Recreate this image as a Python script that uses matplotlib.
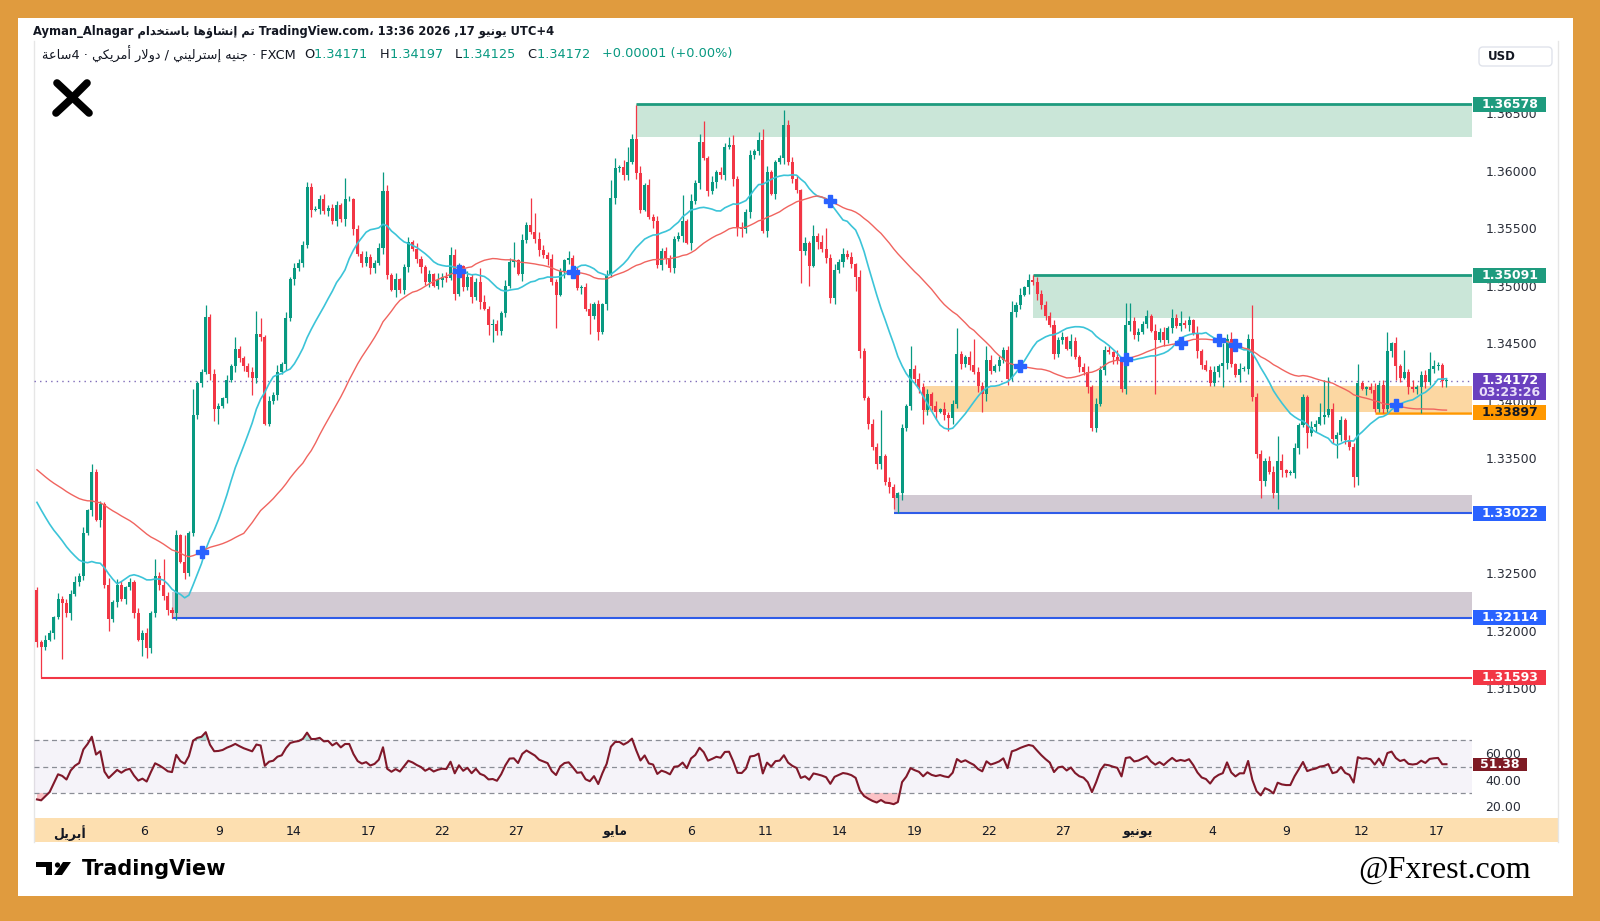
import matplotlib
matplotlib.use("Agg")
import matplotlib.pyplot as plt
import numpy as np
from matplotlib.patches import Rectangle, FancyBboxPatch, Polygon, Circle
from matplotlib.transforms import blended_transform_factory

# ---------------- data (prices in pips: 13417 -> 1.3417) ----------------
first_open = 13235
closes = [
    13190, 13186, 13192, 13198, 13212, 13228, 13224, 13215, 13232, 13242,
    13248, 13285, 13305, 13338, 13296, 13310, 13240, 13210, 13225, 13240,
    13228, 13238, 13242, 13215, 13192, 13198, 13185, 13215, 13248, 13240,
    13230, 13218, 13215, 13283, 13260, 13250, 13285, 13388, 13415, 13425,
    13473, 13423, 13393, 13395, 13402, 13418, 13430, 13445, 13437, 13430,
    13425, 13420, 13458, 13455, 13380, 13400, 13405, 13425, 13432, 13472,
    13506, 13515, 13520, 13535, 13586, 13566, 13567, 13575, 13565, 13568,
    13556, 13570, 13558, 13575, 13575, 13549, 13528, 13520, 13525, 13515,
    13520, 13533, 13582, 13509, 13496, 13506, 13496, 13516, 13538, 13532,
    13523, 13516, 13503, 13510, 13500, 13505, 13508, 13507, 13527, 13493,
    13517, 13499, 13508, 13490, 13503, 13486, 13480, 13466, 13467, 13461,
    13476, 13500, 13521, 13522, 13510, 13540, 13553, 13547, 13541, 13531,
    13527, 13523, 13503, 13492, 13513, 13522, 13524, 13512, 13498, 13499,
    13480, 13474, 13484, 13460, 13484, 13509, 13576, 13602, 13603, 13596,
    13608, 13628, 13598, 13566, 13588, 13560, 13556, 13518, 13530, 13524,
    13515, 13541, 13543, 13556, 13537, 13574, 13589, 13625, 13611, 13582,
    13590, 13599, 13596, 13621, 13622, 13593, 13550, 13549, 13564, 13614,
    13617, 13627, 13548, 13599, 13580, 13608, 13611, 13640, 13608, 13593,
    13583, 13530, 13537, 13517, 13543, 13538, 13532, 13524, 13489, 13514,
    13521, 13528, 13525, 13519, 13508, 13443, 13402, 13380, 13360, 13345,
    13352, 13329, 13325, 13315, 13320, 13376, 13395, 13428, 13419, 13412,
    13392, 13406, 13395, 13390, 13393, 13388, 13385, 13397, 13441, 13432,
    13438, 13431, 13425, 13413, 13406, 13435, 13426, 13430, 13435, 13444,
    13419, 13477, 13483, 13492, 13499, 13505, 13503, 13493, 13483, 13474,
    13466, 13441, 13453, 13455, 13445, 13452, 13438, 13429, 13425, 13412,
    13376, 13397, 13427, 13444, 13442, 13438, 13435, 13410, 13466, 13469,
    13457, 13460, 13467, 13474, 13461, 13453, 13460, 13453, 13463, 13472,
    13465, 13468, 13466, 13470, 13459, 13443, 13431, 13427, 13415, 13425,
    13430, 13433, 13454, 13432, 13422, 13428, 13428, 13454, 13403, 13354,
    13330, 13348, 13338, 13320, 13348, 13340, 13337, 13337, 13359, 13379,
    13403, 13372, 13377, 13380, 13386, 13388, 13393, 13367, 13370, 13383,
    13366, 13360, 13334, 13415, 13410, 13412, 13409, 13393, 13414, 13393,
    13443, 13450, 13430, 13420, 13425, 13412, 13410, 13412, 13422, 13416,
    13428, 13430, 13431, 13417, 13417,
]
# wick lengths in pips, one digit per candle
up_wick = ("3243152436" "2514332625" "3142534213" "2435162423" "4253142532"
           "3415243625" "2534132452" "3425314253" "2436251342" "5324163425"
           "3152436243" "2534152436" "4253216342" "3524153426" "2436152534"
           "3245263142" "5243162534" "2435213524" "3152436245" "2534163243"
           "4253142635" "3425162432" "2534315243" "4236152534" "3425163245"
           "2534216342" "4325163425" "3524162435" "2436152534" "3245261342"
           "4253162534" "2435213624" "3152436245" "25342")
dn_wick = ("4231524362" "3425163524" "2534162435" "3426152343" "2536142534"
           "4253163425" "3524261534" "2436152435" "4253162342" "3524136425"
           "2435261534" "4325163245" "3524163425" "2436251534" "4253126345"
           "3425163524" "2534261435" "4326152534" "2435163425" "3524261534"
           "4253162345" "2436152534" "3425263142" "5243162534" "2534162435"
           "4325163245" "3524162534" "2435263142" "4253162534" "3425163245"
           "2534162435" "4326152534" "3524162435" "24351")
known_high = {13: 13345, 28: 13262, 30: 13262, 35: 13283, 37: 13410, 40: 13483,
              47: 13455, 52: 13478, 53: 13472, 64: 13590, 73: 13594, 82: 13599,
              98: 13534, 105: 13515, 113: 13538, 117: 13576, 118: 13563,
              136: 13592, 137: 13611, 140: 13621, 141: 13632, 142: 13657,
              153: 13579, 157: 13632, 158: 13643, 164: 13629, 165: 13631,
              171: 13634, 172: 13636, 177: 13653, 178: 13644, 184: 13553,
              187: 13550, 200: 13392, 207: 13448, 218: 13463, 222: 13454,
              225: 13448, 231: 13487, 236: 13509, 254: 13448, 258: 13485,
              259: 13485, 269: 13480, 271: 13478, 281: 13450, 282: 13458,
              287: 13458, 288: 13483, 294: 13369, 300: 13406, 304: 13398,
              305: 13418, 306: 13421, 313: 13432, 320: 13460, 324: 13444,
              330: 13442, 333: 13433, 334: 13420}
known_low = {1: 13159, 6: 13175, 17: 13200, 25: 13178, 26: 13176, 32: 13211,
             42: 13382, 43: 13380, 51: 13405, 55: 13378, 107: 13457,
             108: 13451, 123: 13463, 131: 13458, 133: 13453, 166: 13543,
             167: 13542, 181: 13502, 183: 13500, 188: 13485, 194: 13495,
             203: 13306, 204: 13302, 210: 13380, 216: 13374, 224: 13390,
             250: 13374, 257: 13408, 265: 13406, 278: 13413, 281: 13412,
             290: 13315, 293: 13315, 294: 13306, 301: 13359, 308: 13350,
             312: 13325, 313: 13327, 317: 13390, 322: 13418, 328: 13389,
             334: 13412}

ma_fast_len, ma_fast_seed = 20, 13318
ma_slow_len, ma_slow_seed = 50, 13343
rsi_len, rsi_seed_gain, rsi_seed_loss = 14, 3.0, 5.5
cross_idx = [39, 100, 127, 188, 233, 258, 271, 280, 284, 322]

# zones: (start candle, top, bottom)
green_zones = [(142, 1.36578, 1.36296), (236, 1.35091, 1.34716)]
gray_zones = [(203, 1.33180, 1.33022), (32, 1.32338, 1.32114)]
orange_zone = (210, 1.34130, 1.33900)
low_line = (1, 1.31593)
orange_line = (317, 1.33897)
last_price = 1.34172
countdown = "03:23:26"
rsi_last = 51.38

price_ticks = [1.315, 1.320, 1.325, 1.335, 1.340, 1.345, 1.350,
               1.355, 1.360, 1.365]
rsi_ticks = [20, 40, 60]
date_pos = [7.7, 25.3, 43.2, 60.9, 78.5, 95.9, 113.6, 137.0, 154.9, 172.6,
            190.2, 207.9, 225.5, 243.2, 260.8, 278.5, 296.1, 313.8, 331.7]
date_lab = ["أبريل", "6", "9", "14", "17", "22", "27", "مايو", "6", "11",
            "14", "19", "22", "27", "يونيو", "4", "9", "12", "17"]
hdr_ohlc = [("O", "1.34171"), ("H", "1.34197"), ("L", "1.34125"), ("C", "1.34172")]
hdr_change = "+0.00001 (+0.00%)"

# ---------------- arabic shaping (no bidi lib available) ----------------
AR = {'ا': (0xFE8D, 0xFE8E, None, None), 'أ': (0xFE83, 0xFE84, None, None),
      'إ': (0xFE87, 0xFE88, None, None), 'ؤ': (0xFE85, 0xFE86, None, None),
      'ة': (0xFE93, 0xFE94, None, None), 'د': (0xFEA9, 0xFEAA, None, None),
      'ر': (0xFEAD, 0xFEAE, None, None), 'و': (0xFEED, 0xFEEE, None, None),
      'ب': (0xFE8F, 0xFE90, 0xFE91, 0xFE92), 'ت': (0xFE95, 0xFE96, 0xFE97, 0xFE98),
      'ج': (0xFE9D, 0xFE9E, 0xFE9F, 0xFEA0), 'خ': (0xFEA5, 0xFEA6, 0xFEA7, 0xFEA8),
      'س': (0xFEB1, 0xFEB2, 0xFEB3, 0xFEB4), 'ش': (0xFEB5, 0xFEB6, 0xFEB7, 0xFEB8),
      'ع': (0xFEC9, 0xFECA, 0xFECB, 0xFECC), 'ك': (0xFED9, 0xFEDA, 0xFEDB, 0xFEDC),
      'ل': (0xFEDD, 0xFEDE, 0xFEDF, 0xFEE0), 'م': (0xFEE1, 0xFEE2, 0xFEE3, 0xFEE4),
      'ن': (0xFEE5, 0xFEE6, 0xFEE7, 0xFEE8), 'ه': (0xFEE9, 0xFEEA, 0xFEEB, 0xFEEC),
      'ي': (0xFEF1, 0xFEF2, 0xFEF3, 0xFEF4)}
LAMALEF = {'ا': (0xFEFB, 0xFEFC), 'أ': (0xFEF7, 0xFEF8), 'إ': (0xFEF9, 0xFEFA)}


def ar(text):
    if not any(ch in AR for ch in text):
        return text
    out, prev, i = [], None, 0
    fwd = lambda ch: ch in AR and AR[ch][2] is not None
    while i < len(text):
        ch = text[i]
        if ch not in AR:
            out.append(ch); prev = None; i += 1; continue
        lp = prev is not None and fwd(prev)
        if ch == 'ل' and i + 1 < len(text) and text[i + 1] in LAMALEF:
            iso, fin = LAMALEF[text[i + 1]]
            out.append(chr(fin if lp else iso)); prev = text[i + 1]; i += 2; continue
        ln = fwd(ch) and i + 1 < len(text) and text[i + 1] in AR
        iso, fin, ini, med = AR[ch]
        out.append(chr(med if lp and ln else fin if lp else ini if ln else iso))
        prev = ch; i += 1
    return ''.join(out)[::-1]


# ---------------- derived series ----------------
c = np.array(closes, float)
n = len(c)
o = np.concatenate([[first_open], c[:-1]])
hi = np.maximum(o, c) + np.array([int(d) for d in up_wick[:n]])
lo = np.minimum(o, c) - np.array([int(d) for d in dn_wick[:n]])
for k, v in known_high.items():
    hi[k] = max(v, o[k], c[k])
for k, v in known_low.items():
    lo[k] = min(v, o[k], c[k])


def sma(vals, length, seed):
    cs = np.cumsum(vals)
    out = np.empty(len(vals))
    for i in range(len(vals)):
        if i < length - 1:
            out[i] = (seed * (length - 1 - i) + cs[i]) / length
        else:
            out[i] = (cs[i] - (cs[i - length] if i >= length else 0)) / length
    return out


fast = sma(c, ma_fast_len, ma_fast_seed) / 1e4
slow = sma(c, ma_slow_len, ma_slow_seed) / 1e4

g, l = rsi_seed_gain, rsi_seed_loss
rsi = []
for d in c - o:
    g = (g * (rsi_len - 1) + max(d, 0)) / rsi_len
    l = (l * (rsi_len - 1) + max(-d, 0)) / rsi_len
    rsi.append(100 - 100 / (1 + g / l))
rsi = np.array(rsi)

O, C, H, L = o / 1e4, c / 1e4, hi / 1e4, lo / 1e4
x = np.arange(n)

# ---------------- figure ----------------
GREEN, RED = "#089981", "#F23645"
DARK = "#131722"
fig = plt.figure(figsize=(16, 9.21), dpi=100, facecolor="#E09B3E")
bg = fig.add_axes([0, 0, 1, 1], zorder=0)
bg.set_xlim(0, 1600); bg.set_ylim(921, 0); bg.axis("off")
bg.add_patch(Rectangle((18, 18), 1555, 878, fc="white", ec="none"))
peach = np.array([253, 223, 176]) / 255
def grad(y0, y1, c0=(1, 1, 1)):
    t = np.linspace(0, 1, 200)[:, None, None]
    img = np.array(c0)[None, None, :] * (1 - t) + peach[None, None, :] * t
    bg.imshow(img, extent=(34, 1558, y1, y0), aspect="auto", zorder=0)
grad(41, 726.5)
grad(727, 818, c0=(1, 0.99, 0.98))
bg.add_patch(Rectangle((34, 818), 1524, 24, fc=peach, ec="none"))
bg.set_xlim(0, 1600); bg.set_ylim(921, 0)
for xx in (33.5, 1558):
    bg.plot([xx, xx], [41, 842], color="#E6E6E6", lw=1)

W0, W1 = 34 / 1600, (1472 - 34) / 1600
ax = fig.add_axes([W0, 1 - 726.5 / 921, W1, (726.5 - 41) / 921], zorder=2)
rx = fig.add_axes([W0, 1 - 818 / 921, W1, (818 - 727) / 921], zorder=2)
for a in (ax, rx):
    a.set_facecolor("none")
    for s in a.spines.values():
        s.set_visible(False)
    a.set_xlim(-0.7, 340.05)
    a.yaxis.tick_right()
    a.tick_params(axis="y", length=0, pad=9.5, labelsize=9, labelcolor="#2A2E39")

ax.set_ylim(1.31167, 1.37128)
ax.set_xticks([])
ax.set_yticks(price_ticks)
ax.set_yticklabels([f"{p:.5f}" for p in price_ticks])

# zones
xr = 340.05
for s, top, bot in green_zones:
    ax.add_patch(Rectangle((s, bot), xr - s, top - bot, fc="#CAE6D8", ec="none", zorder=1))
    ax.hlines(top, s, xr, color="#1E9B7E", lw=2, zorder=1.5)
s, top, bot = orange_zone
ax.add_patch(Rectangle((s, bot), xr - s, top - bot, fc="#FCD7A2", ec="none", zorder=1))
for s, top, bot in gray_zones:
    ax.add_patch(Rectangle((s, bot), xr - s, top - bot, fc="#D2CAD3", ec="none", zorder=1))
    ax.hlines(bot, s, xr, color="#2F5CE8", lw=1.5, zorder=1.5)
ax.hlines(low_line[1], low_line[0], xr, color=RED, lw=1.5, zorder=1.5)
ax.hlines(orange_line[1], orange_line[0], xr, color="#FF9800", lw=1.8, zorder=1.5)
ax.axhline(last_price, color="#7E6BB8", lw=1, ls=(0, (1, 3)), zorder=1.5)

# candles
col = np.where(C >= O, GREEN, RED)
ax.vlines(x, L, H, colors=col, lw=0.9, zorder=3)
ax.bar(x, np.maximum(np.abs(C - O), 0.00008), bottom=np.minimum(O, C), width=0.72,
       color=col, zorder=3)
ax.plot(x, fast, color="#3CC4D8", lw=1.2, zorder=4)
ax.plot(x, slow, color="#F0645F", lw=1.0, zorder=4)
ax.plot(cross_idx, slow[cross_idx], ls="none", marker="P", ms=9,
        color="#2962FF", mec="#2962FF", zorder=5)

# price tags on the right axis
bt = blended_transform_factory(ax.transAxes, ax.transData)
ppx = (1.37128 - 1.31167) / (726.5 - 41)
wx = 73 / 1438
def tag(price, fc, txt, tc="white", up=7.5, dn=7.5):
    ax.add_patch(Rectangle((1.0008, price - dn * ppx), wx, (up + dn) * ppx, fc=fc,
                           ec="none", transform=bt, clip_on=False, zorder=6))
    ax.text(1.0008 + wx / 2, price, txt, transform=bt, ha="center", va="center",
            color=tc, fontsize=9, fontweight="bold", zorder=7, clip_on=False)
tag(green_zones[0][1], "#1E9B7E", f"{green_zones[0][1]:.5f}")
tag(green_zones[1][1], "#1E9B7E", f"{green_zones[1][1]:.5f}")
tag(gray_zones[0][2], "#2962FF", f"{gray_zones[0][2]:.5f}")
tag(gray_zones[1][2], "#2962FF", f"{gray_zones[1][2]:.5f}")
tag(low_line[1], RED, f"{low_line[1]:.5f}")
tag(orange_line[1], "#FF9800", f"{orange_line[1]:.5f}", tc=DARK)
tag(last_price, "#6A40BF", f"{last_price:.5f}", up=7.5, dn=19)
ax.text(1.0008 + wx / 2, last_price - 12 * ppx, countdown, transform=bt, ha="center",
        va="center", color="#E8DDF8", fontsize=9, fontweight="bold", zorder=7,
        clip_on=False)

# RSI pane
rx.set_ylim(11, 80)
rx.fill_between([-0.7, xr], 30, 70, color="#B9A3D6", alpha=0.13, lw=0)
for lv in (70, 50, 30):
    rx.axhline(lv, color="#8A8D96", lw=0.9, ls=(0, (4, 3)))
rx.fill_between(x, rsi, 30, where=rsi < 30, color=RED, alpha=0.3, lw=0, interpolate=True)
rx.fill_between(x, rsi, 70, where=rsi > 70, color=GREEN, alpha=0.3, lw=0, interpolate=True)
rx.plot(x, rsi, color="#80182A", lw=1.5)
rx.set_yticks(rsi_ticks)
rx.set_yticklabels([f"{v:.2f}" for v in rsi_ticks])
rbt = blended_transform_factory(rx.transAxes, rx.transData)
rpx = 69 / 91
rx.add_patch(Rectangle((1.0008, rsi_last - 6.5 * rpx), 54 / 1438, 13 * rpx, fc="#7E1B24",
                       ec="none", transform=rbt, clip_on=False, zorder=6))
rx.text(1.0008 + 27 / 1438, rsi_last, f"{rsi_last:.2f}", transform=rbt, ha="center",
        va="center", color="white", fontsize=9, fontweight="bold", zorder=7)
rx.set_xticks(date_pos)
rx.set_xticklabels([ar(t) for t in date_lab])
rx.tick_params(axis="x", length=0, pad=5, labelsize=9, labelcolor=DARK)
for t, lab in zip(rx.get_xticklabels(), date_lab):
    if not lab.isdigit():
        t.set_fontweight("bold")

# header texts
fig.canvas.draw()
rend = fig.canvas.get_renderer()
def runs(x0, y0, parts, size=9, weight="normal"):
    for txt, cl in parts:
        t = bg.text(x0, y0, txt, color=cl, fontsize=size, fontweight=weight,
                    va="center", ha="left")
        x0 += t.get_window_extent(rend).width
runs(33, 31.5, [("Ayman_Alnagar " + ar("تم إنشاؤها باستخدام") + " TradingView.com، 13:36 2026 ,17 "
                 + ar("يونيو") + " UTC+4", DARK)], size=8.3, weight="bold")
parts = [(ar("جنيه إسترليني / دولار أمريكي · 4ساعة") + " · FXCM  ", DARK)]
for k, v in hdr_ohlc:
    parts += [(k, DARK), (v + "   ", GREEN)]
parts += [(hdr_change, GREEN)]
runs(42, 54, parts, size=9.3)

# USD button
bg.add_patch(FancyBboxPatch((1479, 47), 73, 19, boxstyle="round,pad=0,rounding_size=4",
                            fc="white", ec="#E0E3EB", lw=1))
bg.text(1488, 56.5, "USD", fontsize=8.5, color=DARK, va="center", fontweight="semibold")

# X logo
bg.plot([57, 89], [83, 113], color="black", lw=5.5, solid_capstyle="round")
bg.plot([87, 72], [83, 98], color="black", lw=5.5, solid_capstyle="round")
bg.plot([70, 56], [100, 113], color="black", lw=5.5, solid_capstyle="round")

# TradingView logo
bg.add_patch(Polygon([[36, 862], [52, 862], [52, 875], [46, 875], [46, 867], [36, 867]],
                     fc="black", ec="none"))
bg.add_patch(Circle((57.5, 865), 2.6, fc="black", ec="none"))
bg.add_patch(Polygon([[63, 862], [71, 862], [62, 875], [54, 875]], fc="black", ec="none"))
bg.text(82, 868.5, "TradingView", fontsize=15, fontweight="bold", color="black",
        va="center", ha="left")
bg.text(1531, 870, "@Fxrest.com", fontsize=23, family="Liberation Serif", color="black",
        va="center", ha="right")

fig.savefig("out.png", dpi=100, facecolor=fig.get_facecolor())
